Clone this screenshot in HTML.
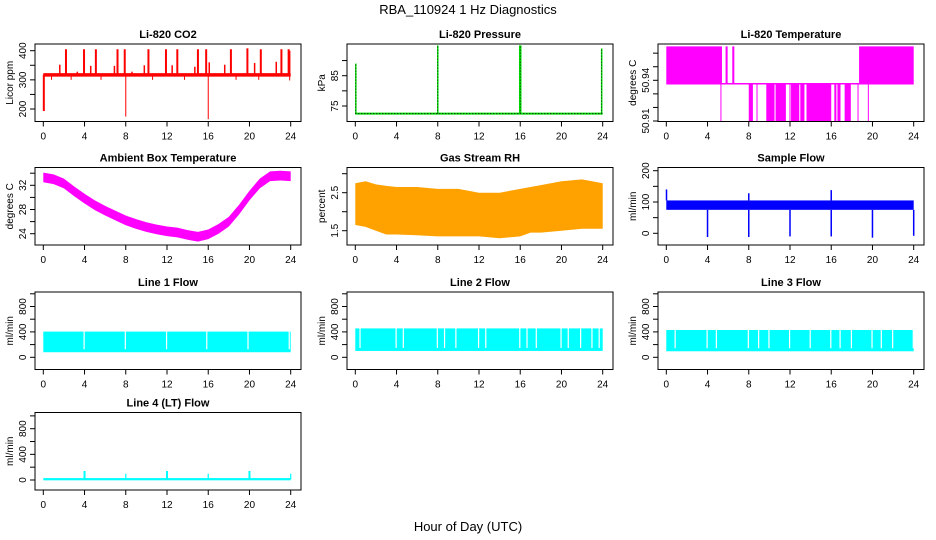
<!DOCTYPE html>
<html><head><meta charset="utf-8"><style>
body{margin:0;background:#fff}
svg{display:block;font-family:"Liberation Sans",sans-serif}
</style></head><body>
<svg id="c" width="936" height="540" viewBox="0 0 936 540" xmlns="http://www.w3.org/2000/svg">
<text x="468" y="14" text-anchor="middle" font-size="13">RBA_110924  1 Hz Diagnostics</text>
<text x="468" y="531" text-anchor="middle" font-size="13">Hour of Day (UTC)</text>
</svg>
<script>
// ---------- data ----------
const xTicks=[0,4,8,12,16,20,24];
// CO2
const co2Base=[311,323];
const co2UpHours=[2.2,3.95,5.1,7.2,7.9,10.2,11.9,13.0,15.0,15.8,18.2,19.8,21.1,23.1,23.8];
const co2UpVals=[405,405,405,405,405,405,405,405,405,405,405,408,405,405,405];
const co2MidHours=[1.6,3.3,4.6,6.9,8.6,9.8,12.5,14.7,16.1,17.6,20.5,22.6,23.9];
const co2MidVals=[352,328,348,348,328,350,350,345,360,352,358,362,400];
const co2DownHours=[0.05,8.0,16.0,0.8,2.7,5.6,10.6,13.7,18.7,20.9,23.9];
const co2DownVals=[193,174,165,300,300,300,300,300,300,300,298];
// Pressure
const presBase=72.5;
const presSpikeHours=[0.05,8.0,16.0,23.9];
const presSpikeVals=[89,95,95,94];
// Li-820 temperature
const tHighStart=[0,5.75,6.4,18.7];
const tHighEnd=[5.4,5.95,6.6,24];
const tLowStart=[8.0,9.7,10.6,12.1,13.0,13.6,16.3,16.6,17.3];
const tLowEnd=[8.4,10.5,11.6,12.9,13.4,16.0,16.5,16.9,17.9];
const tLowLines=[5.3,8.8,12.0,18.6,19.6];
const tLevels=[50.965,50.9375,50.91];
// Ambient temp
const ambHours=[0,1,2,3,4,5,6,7,8,9,10,11,12,13,14,15,16,17,18,19,20,21,22,23,24];
const ambVals=[33.3,33.0,32.3,31.0,29.8,28.7,27.8,27.0,26.2,25.6,25.1,24.7,24.4,24.2,23.8,23.5,23.9,24.8,26.0,28.0,30.3,32.3,33.5,33.6,33.5];
// RH
const rhHours=[0,1,2,3,4,6,8,10,12,14,16,17,18,20,22,24];
const rhHi=[2.75,2.8,2.72,2.68,2.65,2.65,2.6,2.6,2.5,2.5,2.6,2.65,2.7,2.8,2.85,2.75];
const rhLo=[1.65,1.6,1.5,1.4,1.4,1.38,1.35,1.35,1.35,1.3,1.35,1.45,1.45,1.5,1.55,1.55];
// Sample flow
const sfBand=[75,105];
const sfDipHours=[4,8,12,16,20,24];
const sfDipVals=[-12,-12,-10,-10,-14,-8];
const sfSpikeHours=[0.02,8.0,16.0];
const sfSpikeVals=[140,128,138];
// Line flows
const l1Band=[80,405];
const l1Gaps=[3.9,7.9,11.9,15.8,19.8,23.8];
const l2Band=[100,455];
const l2Gaps=[0.4,3.9,4.6,7.9,8.6,9.7,11.9,12.6,15.9,16.6,17.5,19.9,20.6,21.8,22.9,23.6];
const l3Band=[95,430];
const l3Gaps=[0.8,3.9,4.8,7.9,8.9,9.9,11.9,13.9,15.9,16.8,17.9,19.9,20.8,21.9,23.9];
// Line 4
const l4Band=[-5,30];
const l4SpikeHours=[4,8,12,16,20,24];
const l4SpikeVals=[140,100,140,100,140,100];

// ---------- layout ----------
const svg=document.getElementById('c');
const NS='http://www.w3.org/2000/svg';
const L=[35,347,658], W=266, T=[44,167.5,292,412.5], H=77.5;
function mk(tag,attrs,name,parent){
  const el=document.createElementNS(NS,tag);
  for(const k in attrs) el.setAttribute(k,attrs[k]);
  
  
  (parent||svg).appendChild(el);return el;
}
function panel(col,row,title,ytitle,va,ya,vb,yb,ticks,labels){
  const g=mk('g',{},'panel-'+title.toLowerCase().replace(/[^a-z0-9]+/g,'-'));
  const l=L[col],t=T[row];
  const hx=h=>l+8.3+h*247.4/24;
  const vy=v=>ya+(v-va)*(yb-ya)/(vb-va);
  const marks=mk('g',{},'series-marks',g);
  const cp=mk('clipPath',{id:'cp'+col+row},'clip',g);
  mk('rect',{x:l,y:t,width:W,height:H},'clip-rect',cp);
  marks.setAttribute('clip-path','url(#cp'+col+row+')');
  const tt=mk('text',{x:l+W/2,y:t-6,'text-anchor':'middle','font-size':11,'font-weight':'bold'},'panel-title',g);
  tt.textContent=title;
  mk('rect',{x:l,y:t,width:W,height:H,fill:'none',stroke:'#000','stroke-width':1},'plot-frame',g);
  const xa=mk('g',{},'x-axis',g);
  xTicks.forEach(h=>{
    mk('line',{x1:hx(h),x2:hx(h),y1:t+H,y2:t+H+5,stroke:'#000'},'x-tick',xa);
    const tx=mk('text',{x:hx(h),y:t+H+18,'text-anchor':'middle','font-size':10},'x-tick-label',xa);
    tx.textContent=h;
  });
  const ya_=mk('g',{},'y-axis',g);
  ticks.forEach(v=>{
    mk('line',{x1:l-5,x2:l,y1:vy(v),y2:vy(v),stroke:'#000'},'y-tick',ya_);
  });
  labels.forEach(v=>{
    const y=vy(v);
    const tx=mk('text',{x:l-9,y:y,'text-anchor':'middle','font-size':10,transform:'rotate(-90 '+(l-9)+' '+y+')'},'y-tick-label',ya_);
    tx.textContent=v;
  });
  const yt=mk('text',{x:l-22,y:t+H/2,'text-anchor':'middle','font-size':10,transform:'rotate(-90 '+(l-22)+' '+(t+H/2)+')'},'y-axis-title',g);
  yt.textContent=ytitle;
  return {g:marks,hx,vy};
}
function band(p,hours,lo,hi,fill,name){
  let d='M'+hours.map((h,i)=>p.hx(h)+','+p.vy(hi[i])).join(' L');
  d+=' L'+hours.slice().reverse().map((h,i)=>p.hx(h)+','+p.vy(lo[hours.length-1-i])).join(' L')+'Z';
  mk('path',{d:d,fill:fill,stroke:'none'},name,p.g);
}
function vline(p,h,v0,v1,color,w,name){
  mk('line',{x1:p.hx(h),x2:p.hx(h),y1:p.vy(v0),y2:p.vy(v1),stroke:color,'stroke-width':w},name,p.g);
}

// CO2
let p=panel(0,0,'Li-820 CO2','Licor ppm',400,50.7,200,109,[200,250,300,350,400],[200,300,400]);
mk('rect',{x:p.hx(0),y:p.vy(co2Base[1]),width:p.hx(24)-p.hx(0),height:p.vy(co2Base[0])-p.vy(co2Base[1]),fill:'#ff0000'},'co2-band',p.g);
co2UpHours.forEach((h,i)=>vline(p,h,318,co2UpVals[i],'#ff0000',2,'co2-spike'));
co2MidHours.forEach((h,i)=>vline(p,h,318,co2MidVals[i],'#ff0000',1.5,'co2-spike'));
co2DownHours.forEach((h,i)=>vline(p,h,318,co2DownVals[i],'#ff0000',i==0?2:1,'co2-dip'));

// Pressure
p=panel(1,0,'Li-820 Pressure','kPa',85,75.7,75,106,[75,80,85,90],[75,85]);
mk('line',{x1:p.hx(0),x2:p.hx(24),y1:p.vy(presBase),y2:p.vy(presBase),stroke:'#00dd00','stroke-width':2},'pressure-line',p.g);
mk('line',{x1:p.hx(0),x2:p.hx(24),y1:p.vy(presBase),y2:p.vy(presBase),stroke:'#000','stroke-width':1,'stroke-dasharray':'1,2'},'pressure-line-dots',p.g);
presSpikeHours.forEach((h,i)=>{
  vline(p,h,presBase,presSpikeVals[i],'#00dd00',i==2?2.5:1.5,'pressure-spike');
  mk('line',{x1:p.hx(h),x2:p.hx(h),y1:p.vy(presBase),y2:p.vy(presSpikeVals[i]),stroke:'#000','stroke-width':0.8,'stroke-dasharray':'1,2'},'pressure-spike-dots',p.g);
});

// Li-820 Temperature
p=panel(2,0,'Li-820 Temperature','degrees C',50.94,80.3,50.91,121,[50.91,50.92,50.93,50.94,50.95,50.96],[50.91,50.94]);
mk('line',{x1:p.hx(0),x2:p.hx(24),y1:p.vy(tLevels[1]),y2:p.vy(tLevels[1]),stroke:'#ff00ff','stroke-width':1.5},'temp-base',p.g);
tHighStart.forEach((s,i)=>mk('rect',{x:p.hx(s),y:p.vy(tLevels[0]),width:Math.max(1.5,p.hx(tHighEnd[i])-p.hx(s)),height:p.vy(tLevels[1])-p.vy(tLevels[0]),fill:'#ff00ff'},'temp-high-block',p.g));
tLowStart.forEach((s,i)=>mk('rect',{x:p.hx(s),y:p.vy(tLevels[1]),width:Math.max(1.5,p.hx(tLowEnd[i])-p.hx(s)),height:p.vy(tLevels[2])-p.vy(tLevels[1]),fill:'#ff00ff'},'temp-low-block',p.g));
tLowLines.forEach(h=>vline(p,h,tLevels[1],tLevels[2],'#ff00ff',1,'temp-low-line'));

// Ambient
p=panel(0,1,'Ambient Box Temperature','degrees C',32,185.3,24,233.7,[24,26,28,30,32,34],[24,28,32]);
band(p,ambHours,ambVals.map(v=>v-0.8),ambVals.map(v=>v+0.8),'#ff00ff','ambient-temp-band');

// RH
p=panel(1,1,'Gas Stream RH','percent',2.5,192.7,1.5,230.7,[1.5,2,2.5,3],[1.5,2.5]);
band(p,rhHours,rhLo,rhHi,'#ffa200','rh-band');

// Sample flow
p=panel(2,1,'Sample Flow','ml/min',200,170.7,0,233.3,[0,50,100,150,200],[0,100,200]);
mk('rect',{x:p.hx(0),y:p.vy(sfBand[1]),width:p.hx(24)-p.hx(0),height:p.vy(sfBand[0])-p.vy(sfBand[1]),fill:'#0000ff'},'sample-flow-band',p.g);
sfDipHours.forEach((h,i)=>vline(p,h,sfBand[0],sfDipVals[i],'#0000ff',1.5,'sample-flow-dip'));
sfSpikeHours.forEach((h,i)=>vline(p,h,sfBand[1],sfSpikeVals[i],'#0000ff',1.5,'sample-flow-spike'));

// Line flows
function lineFlow(col,row,title,bandv,gaps,nm){
  const q=panel(col,row,title,'ml/min',0,row==3?480:357.3,800,row==3?428.7:306.5,[0,200,400,600,800,1000],[0,400,800]);
  mk('rect',{x:q.hx(0),y:q.vy(bandv[1]),width:q.hx(24)-q.hx(0),height:q.vy(bandv[0])-q.vy(bandv[1]),fill:'#00ffff'},nm+'-band',q.g);
  gaps.forEach(h=>mk('rect',{x:q.hx(h),y:q.vy(bandv[1])-1,width:1.2,height:q.vy(bandv[0])-q.vy(bandv[1])-2,fill:'#fff'},nm+'-gap',q.g));
  return q;
}
lineFlow(0,2,'Line 1 Flow',l1Band,l1Gaps,'line1-flow');
lineFlow(1,2,'Line 2 Flow',l2Band,l2Gaps,'line2-flow');
lineFlow(2,2,'Line 3 Flow',l3Band,l3Gaps,'line3-flow');
p=lineFlow(0,3,'Line 4 (LT) Flow',l4Band,[],'line4-flow');
l4SpikeHours.forEach((h,i)=>vline(p,h,10,l4SpikeVals[i],'#00ffff',i%2==0?2:1.2,'line4-spike'));
</script>
</body></html>
